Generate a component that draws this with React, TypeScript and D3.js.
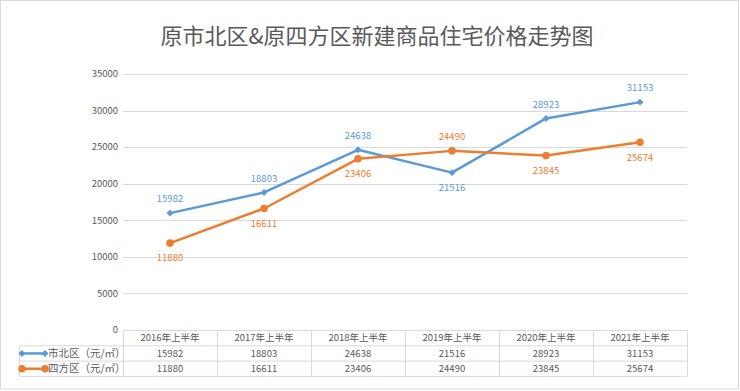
import React, { useEffect, useRef } from 'react';
import * as d3 from 'd3';

const categories = ['2016年上半年', '2017年上半年', '2018年上半年', '2019年上半年', '2020年上半年', '2021年上半年'];
const shibeiValues = [15982, 18803, 24638, 21516, 28923, 31153];
const sifangValues = [11880, 16611, 23406, 24490, 23845, 25674];
const yTicks = [0, 5000, 10000, 15000, 20000, 25000, 30000, 35000];
// label position per point: true = above the point
const shibeiAbove = [true, true, true, false, true, true];
const sifangAbove = [false, false, false, true, false, false];

const FONT = '"Noto Sans CJK SC", "Microsoft YaHei", sans-serif';
const BLUE = '#5B9BD5';
const ORANGE = '#ED7D31';
const GRID = '#D9D9D9';
const TEXT = '#595959';

const App = () => {
    const svgRef = useRef<SVGSVGElement>(null);

    useEffect(() => {
        document.body.style.margin = '0';
        const width = 740;
        const height = 391;
        const plot = { left: 123, right: 687, top: 74, bottom: 330 };
        const rowH = 15.3;

        const svg = d3.select(svgRef.current)
            .attr('width', width)
            .attr('height', height);
        svg.selectAll('*').remove();

        svg.append('rect')
            .attr('x', 0.5).attr('y', 0.5)
            .attr('width', 738).attr('height', 388.5)
            .attr('fill', '#fff')
            .attr('stroke', GRID);

        svg.append('text')
            .attr('x', 377)
            .attr('y', 44)
            .attr('text-anchor', 'middle')
            .style('font-family', FONT)
            .style('font-size', '22px')
            .style('fill', TEXT)
            .text('原市北区&原四方区新建商品住宅价格走势图');

        const x = d3.scaleBand()
            .domain(categories)
            .range([plot.left, plot.right]);

        const y = d3.scaleLinear()
            .domain([0, 35000])
            .range([plot.bottom, plot.top]);

        // gridlines + y labels
        const grid = svg.append('g');
        grid.selectAll('line')
            .data(yTicks.filter(d => d > 0))
            .enter()
            .append('line')
            .attr('x1', plot.left).attr('x2', plot.right)
            .attr('y1', d => Math.round(y(d)) + 0.5)
            .attr('y2', d => Math.round(y(d)) + 0.5)
            .attr('stroke', GRID);

        grid.selectAll('text')
            .data(yTicks)
            .enter()
            .append('text')
            .attr('x', plot.left - 5)
            .attr('y', d => y(d))
            .attr('dy', '0.35em')
            .attr('text-anchor', 'end')
            .style('font-family', FONT)
            .style('font-size', '9.5px')
            .style('fill', TEXT)
            .text(d => d);

        // data table
        const table = svg.append('g');
        const tTop = plot.bottom + 0.5;
        const tBottom = tTop + rowH * 3;
        const legendLeft = 19.5;
        [0, 1, 2, 3].forEach(i => {
            const yy = tTop + rowH * i;
            table.append('line')
                .attr('x1', i === 0 ? plot.left : legendLeft).attr('x2', plot.right)
                .attr('y1', yy).attr('y2', yy)
                .attr('stroke', GRID);
        });
        table.append('line')
            .attr('x1', legendLeft).attr('x2', legendLeft)
            .attr('y1', tTop + rowH).attr('y2', tBottom)
            .attr('stroke', GRID);
        categories.concat(['end']).forEach((c, i) => {
            const xx = Math.round(plot.left + x.bandwidth() * i) + 0.5;
            table.append('line')
                .attr('x1', xx).attr('x2', xx)
                .attr('y1', tTop).attr('y2', tBottom)
                .attr('stroke', GRID);
        });

        const cellText = (xx: number, row: number, t: string | number) => {
            table.append('text')
                .attr('x', xx)
                .attr('y', tTop + rowH * row + rowH / 2)
                .attr('dy', '0.35em')
                .attr('text-anchor', 'middle')
                .style('font-family', FONT)
                .style('font-size', '9.5px')
                .style('fill', TEXT)
                .text(t);
        };
        categories.forEach((c, i) => {
            const cx = x(c)! + x.bandwidth() / 2;
            cellText(cx, 0, c);
            cellText(cx, 1, shibeiValues[i]);
            cellText(cx, 2, sifangValues[i]);
        });

        const series = [
            { name: '市北区（元/㎡）', values: shibeiValues, above: shibeiAbove, color: BLUE, marker: 'diamond' },
            { name: '四方区（元/㎡）', values: sifangValues, above: sifangAbove, color: ORANGE, marker: 'circle' },
        ];

        const line = d3.line<number>()
            .x((d, i) => x(categories[i])! + x.bandwidth() / 2)
            .y(d => y(d));

        series.forEach((s, si) => {
            const g = svg.append('g');
            g.append('path')
                .datum(s.values)
                .attr('d', line)
                .attr('fill', 'none')
                .attr('stroke', s.color)
                .attr('stroke-width', 2.5)
                .attr('stroke-linejoin', 'round');

            const isDiamond = s.marker === 'diamond';
            const sym = d3.symbol()
                .type(isDiamond ? d3.symbolSquare : d3.symbolCircle)
                .size(isDiamond ? 24 : 45);
            const rot = isDiamond ? ' rotate(45)' : '';

            g.selectAll('.pt')
                .data(s.values)
                .enter()
                .append('path')
                .attr('class', 'pt')
                .attr('transform', (d, i) => `translate(${x(categories[i])! + x.bandwidth() / 2},${y(d)})${rot}`)
                .attr('d', sym)
                .attr('fill', s.color);

            g.selectAll('.lbl')
                .data(s.values)
                .enter()
                .append('text')
                .attr('class', 'lbl')
                .attr('x', (d, i) => x(categories[i])! + x.bandwidth() / 2)
                .attr('y', (d, i) => y(d) + (s.above[i] ? -14 : 15))
                .attr('dy', '0.35em')
                .attr('text-anchor', 'middle')
                .style('font-family', FONT)
                .style('font-size', '9.5px')
                .style('fill', s.color)
                .text(d => d);

            // legend key in table
            const ly = tTop + rowH * (si + 1) + rowH / 2;
            g.append('line')
                .attr('x1', 22).attr('x2', 45)
                .attr('y1', ly).attr('y2', ly)
                .attr('stroke', s.color)
                .attr('stroke-width', 2.5);
            [22, 45].forEach(lx => {
                g.append('path')
                    .attr('transform', `translate(${lx},${ly})${rot}`)
                    .attr('d', sym)
                    .attr('fill', s.color);
            });
            g.append('text')
                .attr('x', 48)
                .attr('y', ly)
                .attr('dy', '0.35em')
                .style('font-family', FONT)
                .style('font-size', '10.5px')
                .style('fill', TEXT)
                .text(s.name);
        });
    }, []);

    return (
        <div>
            <svg ref={svgRef} style={{ display: 'block' }}></svg>
        </div>
    );
};

export default App;
